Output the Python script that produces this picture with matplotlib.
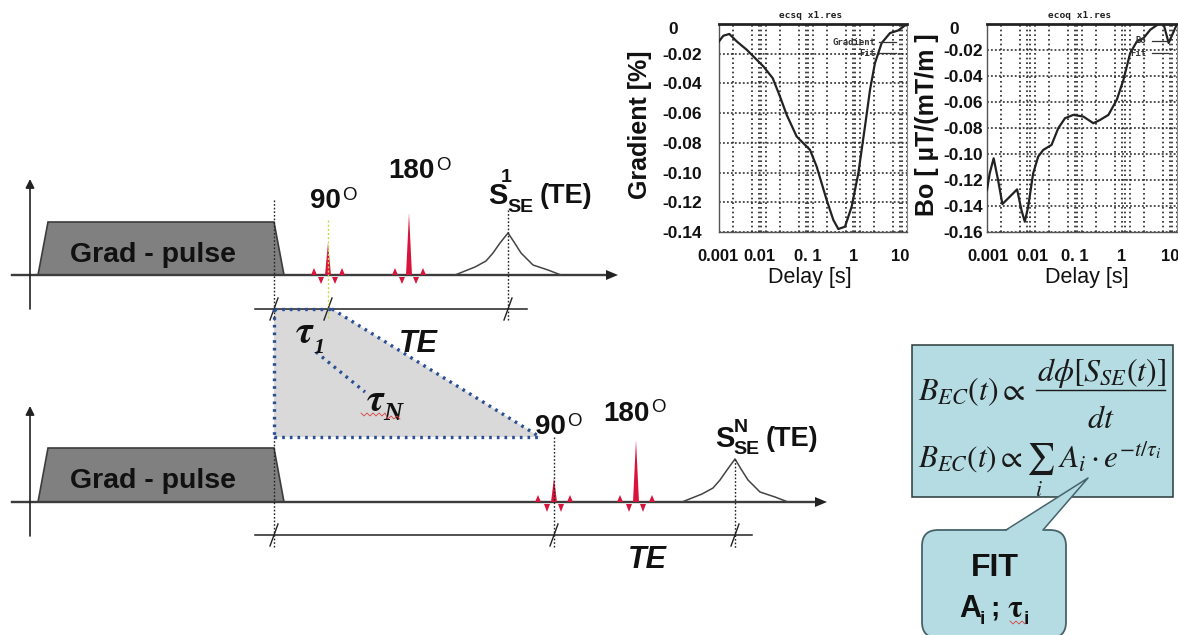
import matplotlib
matplotlib.use("Agg")
import matplotlib.pyplot as plt
from matplotlib.patches import Polygon, FancyBboxPatch, Rectangle
from matplotlib.transforms import ScaledTranslation

plt.rcParams['font.family'] = ['Liberation Sans', 'DejaVu Sans']
plt.rcParams['mathtext.fontset'] = 'stix'

# ---------- data of the two plots ----------
grad_delay = [.001,.001236,.00166,.00238,.00388,.00583,.00877,.01386,.01985,.0275,.0449,.0863,.1197,
              .195,.271,.346,.48,.665,.922,1.276,1.633,2.08,2.89,4.35,6.54,10]
grad_value = [-.0117,-.0079,-.0067,-.0117,-.0173,-.0229,-.0285,-.0364,-.0488,-.0611,-.0757,-.0847,-.0960,
              -.1184,-.1319,-.1380,-.1364,-.1229,-.1004,-.0690,-.0443,-.0263,-.0128,-.0061,-.0043,0]
bo_delay = [.001,.00114,.00138,.00171,.00211,.00301,.0043,.00531,.00625,.00735,.00937,.01194,.01525,.02286,
            .0316,.0438,.0656,.1067,.1734,.24,.36,.54,.746,1.033,1.43,1.98,2.74,4.1,5.22,6.67,10]
bo_value = [-.1277,-.1149,-.1033,-.12,-.1385,-.1329,-.1272,-.1431,-.1521,-.1406,-.1149,-.102,-.0969,-.093,
            -.0802,-.0725,-.0699,-.0712,-.0763,-.0738,-.0699,-.0583,-.0429,-.0224,-.0134,-.0108,-.0044,0,0,-.0146,0]
x_ticks = [.001,.01,.1,1,10]
x_tick_labels = ['0.001','0.01','0. 1','1','10']
grid_multipliers = [2,5,7,8]
grad_y_ticks = [0,-.02,-.04,-.06,-.08,-.10,-.12,-.14]
grad_y_labels = ['0','-0.02','-0.04','-0.06','-0.08','-0.10','-0.12','-0.14']
bo_y_ticks = grad_y_ticks + [-.16]
bo_y_labels = grad_y_labels + ['-0.16']

W, H = 1178, 635
fig = plt.figure(figsize=(W/100, H/100), dpi=100, facecolor='white')
ov = fig.add_axes([0,0,1,1]); ov.set_xlim(0,W); ov.set_ylim(H,0); ov.axis('off')

DARK = '#3c3c3c'; GREY = '#808080'; RED = '#d8143c'; BLUE = '#2b4f95'; INK = '#111111'

def gradient_row(base, top, echo_x, echo_peak, p90, p180, top90, top180, end, lobe_off, up, dn):
    ov.plot([12, end-8],[base,base],color=DARK,lw=1.7,zorder=3)
    ov.add_patch(Polygon([(end,base),(end-12,base-5),(end-12,base+5)],fc='#222222',ec='none',zorder=4))
    ov.annotate('',xy=(30,base-96),xytext=(30,base+34),
                arrowprops=dict(arrowstyle='-|>',color='#222222',lw=1.2,shrinkA=0,shrinkB=0,mutation_scale=13))
    ov.add_patch(Polygon([(38,base),(48,top),(274,top),(284,base)],fc=GREY,ec=DARK,lw=1.2,zorder=2))
    ov.text(153,(base+top)/2+6,'Grad - pulse',fontsize=20.5,fontweight='bold',color=INK,
            ha='center',va='center',zorder=5)
    for xc,t in ((p90,top90),(p180,top180)):
        ov.add_patch(Polygon([(xc-3,base),(xc,t),(xc+3,base)],fc=RED,ec='none',zorder=5))
        for k,o in enumerate(lobe_off):
            sign = -1 if k in (0,3) else 1
            h = up if sign<0 else dn
            ov.add_patch(Polygon([(xc+o-3,base+(0 if sign<0 else 2)),(xc+o,base+sign*h),(xc+o+3,base+(0 if sign<0 else 2))],
                                 fc=RED,ec='none',zorder=5))
    ex = [echo_x+d for d in (-53,-33,-22,-15,-8,0,6,13,25,40,53)]
    ey = [base-d for d in (0,8,14,22,32,base-echo_peak,33,22,10,5,0)]
    ov.plot(ex,ey,color='#444444',lw=1.1,zorder=4)

def slash(x,y):
    ov.plot([x-4,x+4],[y+11,y-11],color='#222222',lw=1.0,zorder=6)

# gray polygon between the rows
ov.add_patch(Polygon([(274,309),(332,309),(540,437),(274,437)],fc='#d9d9d9',ec='none',zorder=1))

gradient_row(275,222,508,233,328,409,243,213,618,[-14,-7,7,14],7,9)
gradient_row(502,448,735,459,554,636,478,440,827,[-16,-7,7,16],7,10)

# timing lines
ov.plot([255,527],[309,309],color='#222222',lw=1.1,zorder=3)
ov.plot([255,752],[535,535],color='#222222',lw=1.1,zorder=3)
for x,y in [(274,309),(328,309),(508,309),(274,535),(554,535),(735,535)]:
    slash(x,y)
for x,y0,y1 in [(274,200,320),(508,210,320),(274,437,548),(554,437,548),(735,459,548)]:
    ov.plot([x,x],[y0,y1],color='#222222',lw=1,ls=(0,(1.2,1.4)),zorder=6)
ov.plot([328,328],[220,318],color='#c8d84a',lw=1,ls=(0,(1.5,1.5)),zorder=6)
for xs,ys in [([274,274],[309,437]),([274,332],[309,309]),([332,540],[309,437]),([274,540],[437,437]),([316,365],[352,392])]:
    ov.plot(xs,ys,color=BLUE,lw=2.4,ls=(0,(0.8,1.5)),zorder=6)

# labels
def degree(x,y,num):
    ov.text(x,y,num,fontsize=20,fontweight='bold',ha='right',va='center',color=INK,zorder=7)
    ov.text(x+1,y-6,'O',fontsize=13.5,ha='left',va='center',color=INK,zorder=7)
degree(341,201,'90'); degree(435,171,'180')
degree(566,427,'90'); degree(650,414,'180')

def echo_label(x,y,sup,sup_dx,sup_dy,se_dx,te_dx):
    ov.text(x,y,'S',fontsize=21,fontweight='bold',ha='left',va='center',color=INK,zorder=7)
    ov.text(x+sup_dx,y+sup_dy,sup,fontsize=14,fontweight='bold',ha='center',va='center',color=INK,zorder=7)
    ov.text(x+se_dx,y+11,'SE',fontsize=14,fontweight='bold',ha='center',va='center',color=INK,zorder=7)
    ov.text(x+te_dx,y,'(TE)',fontsize=19.5,fontweight='bold',ha='left',va='center',color=INK,zorder=7)
echo_label(488,196,'1',18,-19,32,52)
echo_label(715,439,'N',26,-11,31,51)

for x,y in [(418,344),(647,560)]:
    ov.text(x,y,'TE',fontsize=22,fontweight='bold',fontstyle='italic',ha='center',va='center',color=INK,zorder=7)
ov.text(295,333,r'$\mathbfit{\tau}$',fontsize=28,ha='left',va='center',color=INK,zorder=7)
ov.text(313,348,'1',fontsize=16,fontweight='bold',fontstyle='italic',family='Liberation Serif',ha='left',va='center',color=INK,zorder=7)
ov.text(366,401,r'$\mathbfit{\tau}$',fontsize=28,ha='left',va='center',color=INK,zorder=7)
ov.text(383,414,'N',fontsize=19,fontweight='bold',fontstyle='italic',family='Liberation Serif',ha='left',va='center',color=INK,zorder=7)
ov.plot([361,364,367,370,373,376,379,382,385,388,391,394,397,400],
        [413,416,413,416,413,416,413,416,413,419,416,419,416,419],color='#d84040',lw=0.6,zorder=7)

# equation box and callout
BOX = '#b5dce3'
ov.add_patch(Rectangle((912,345),261,152,fc=BOX,ec='#2a3a3a',lw=1.1,zorder=2))
ov.add_patch(FancyBboxPatch((930,538),128,92,boxstyle='round,pad=8,rounding_size=16',fc=BOX,ec='#46636b',lw=1.3,zorder=3))
ov.add_patch(Polygon([(1006,531),(1088,478),(1043,531)],fc=BOX,ec='none',zorder=4))
ov.plot([1006,1088,1043],[530,478,530],color='#46636b',lw=1.1,zorder=4)
ov.text(995,568,'FIT',fontsize=23,fontweight='bold',ha='center',va='center',zorder=6,color=INK)
ov.text(959,609,'A',fontsize=22,fontweight='bold',ha='left',va='center',zorder=6,color=INK)
ov.text(980,619,'i',fontsize=14,fontweight='bold',ha='left',va='center',zorder=6,color=INK)
ov.text(990,608,';',fontsize=20,fontweight='bold',ha='left',va='center',zorder=6,color=INK)
ov.text(1007,609,r'$\mathbf{\tau}$',fontsize=22,ha='left',va='center',zorder=6,color=INK)
ov.text(1024,620,'i',fontsize=14,fontweight='bold',ha='left',va='center',zorder=6,color=INK)
ov.plot([1010,1013,1016,1019,1022,1025],[621,624,621,624,621,624],color='#d84040',lw=0.6,zorder=7)

EQ = '#1a1a1a'
ov.text(918,392,r'$B_{EC}(t)\propto$',fontsize=23,ha='left',va='center',color=EQ,zorder=6)
ov.text(1101,373,r'$d\phi\left[S_{SE}(t)\right]$',fontsize=23,ha='center',va='center',color=EQ,zorder=6)
ov.plot([1036,1165],[390,390],color=EQ,lw=1,zorder=6)
ov.text(1101,420,r'$dt$',fontsize=23,ha='center',va='center',color=EQ,zorder=6)
ov.text(918,470,r'$B_{EC}(t)\propto\sum_{i}\ A_i\cdot e^{-t/\tau_i}$',fontsize=22.5,ha='left',va='center',color=EQ,zorder=6)

# ---------- plots ----------
def make_plot(rect, x, y, ylim, yticks, ylabels, xoff, ypad, title, legend, leg_xy):
    l,t,r,b = rect
    ax = fig.add_axes([l/W, 1-b/H, (r-l)/W, (b-t)/H], facecolor='none')
    ax.set_xscale('log'); ax.set_xlim(.001,10); ax.set_ylim(*ylim)
    for e in range(-3,1):
        for m in grid_multipliers:
            ax.axvline(m*10.0**e,color='#222222',lw=1.2,ls=(0,(1,1.8)),zorder=1)
    for v in x_ticks:
        ax.axvline(v,color='#222222',lw=1.2,ls=(0,(1,1.8)),zorder=1)
    for v in yticks:
        ax.axhline(v,color='#222222',lw=1.1,ls=(0,(1.2,1.4)),zorder=1)
    ax.plot(x,y,color='#222222',lw=1.6,zorder=3)
    ax.spines['right'].set_linewidth(0.8); ax.spines['right'].set_color('#888888')
    ax.spines['top'].set_linewidth(2.0); ax.spines['top'].set_color('#222222')
    ax.spines['left'].set_linewidth(1.0); ax.spines['left'].set_color('#555555')
    ax.spines['bottom'].set_linewidth(1.0); ax.spines['bottom'].set_color('#555555')
    ax.set_xticks(x_ticks); ax.set_xticklabels(x_tick_labels,fontsize=12,fontweight='bold',color=INK)
    ax.minorticks_off()
    ax.set_yticks(yticks); ax.set_yticklabels(ylabels,fontsize=12.5,fontweight='bold',color=INK)
    ax.tick_params(length=0)
    ax.tick_params(axis='y',pad=ypad)
    ax.tick_params(axis='x',pad=12)
    for lab,dx in zip(ax.get_xticklabels(),xoff):
        lab.set_transform(lab.get_transform()+ScaledTranslation(dx/100,0,fig.dpi_scale_trans))
    zero = ax.get_yticklabels()[0]
    zero.set_transform(zero.get_transform()+ScaledTranslation(-0.24,-0.04,fig.dpi_scale_trans))
    ax.text(0.49,1.043,title,transform=ax.transAxes,fontsize=6.8,fontweight='bold',family='DejaVu Sans Mono',
            ha='center',va='center',color='#222222')
    for txt,xx,yy in legend:
        ax.text(xx,yy,txt,transform=ax.transAxes,fontsize=6.5,fontweight='bold',family='DejaVu Sans Mono',
                ha='right',va='center',color='#333333',zorder=4)
    for x0,x1,yy in leg_xy:
        ax.plot([x0,x1],[yy,yy],transform=ax.transAxes,color='#333333',lw=0.9,zorder=4)
    return ax

make_plot((719,24,907,232),grad_delay,grad_value,(-.14,0),grad_y_ticks,grad_y_labels,
          [-1,-7,-5,-6,-7],12,'ecsq x1.res',[('Gradient',.83,.913),('Fit',.83,.86)],[(.85,.94,.913),(.85,.94,.86)])
make_plot((987,24,1177,232),bo_delay,bo_value,(-.16,0),bo_y_ticks,bo_y_labels,
          [1,-2,-7,-8,-7],3,'ecoq x1.res',[('Bo',.84,.92),('Fit',.84,.86)],[(.87,.95,.92),(.87,.95,.86)])
fig.text(640/W,1-125/H,'Gradient [%]',fontsize=18,fontweight='bold',rotation=90,ha='center',va='center',color=INK)
fig.text(927/W,1-125/H,'Bo [ µT/(mT/m ]',fontsize=18,fontweight='bold',rotation=90,ha='center',va='center',color=INK)
fig.text(810/W,1-277/H,'Delay [s]',fontsize=15.5,ha='center',va='center',color=INK)
fig.text(1087/W,1-277/H,'Delay [s]',fontsize=15.5,ha='center',va='center',color=INK)

fig.savefig('out.png',dpi=100,facecolor='white')
